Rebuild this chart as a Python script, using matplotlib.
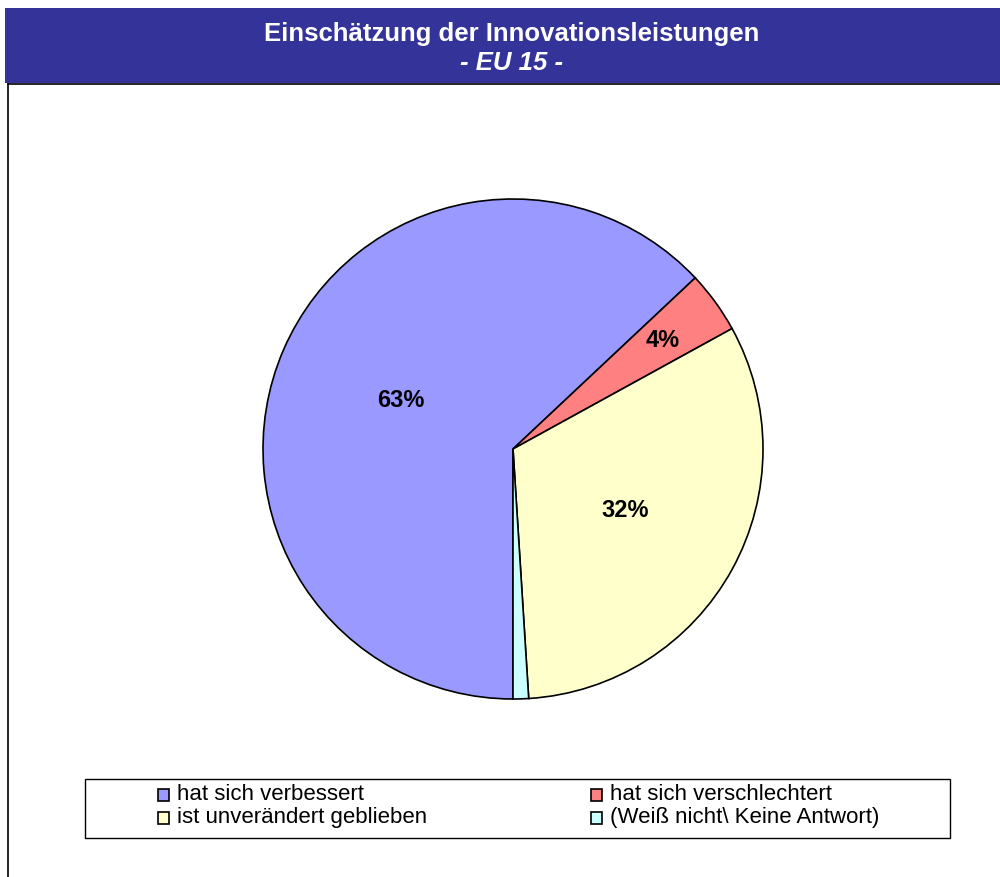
import matplotlib
matplotlib.use("Agg")
import matplotlib.pyplot as plt
from matplotlib.patches import Rectangle
import numpy as np

plt.rcParams['font.family'] = ['Liberation Sans', 'DejaVu Sans']

categories = ["hat sich verbessert", "hat sich verschlechtert",
              "ist unverändert geblieben", "(Weiß nicht\\ Keine Antwort)"]
values = [63, 4, 32, 1]
labels_shown = ["63%", "4%", "32%", ""]
colors = ["#9999FF", "#FF8080", "#FFFFCC", "#CCFFFF"]
label_dist = [0.49, 0.74, 0.51, 0.5]

W, H = 1000, 877
fig = plt.figure(figsize=(W/100, H/100), dpi=100)
fig.patch.set_facecolor("white")

# banner
fig.patches.append(Rectangle((5/W, 1-83/H), 995/W, 75/H, transform=fig.transFigure,
                             facecolor="#333399", edgecolor="none", zorder=0))
# chart border
fig.add_artist(plt.Line2D([8/W, 1], [1-84/H, 1-84/H], transform=fig.transFigure,
                          color="black", linewidth=1.2))
fig.add_artist(plt.Line2D([8/W, 8/W], [0, 1-84/H], transform=fig.transFigure,
                          color="black", linewidth=1.2))

fig.text(512/W, 1-34/H, "Einschätzung der Innovationsleistungen", color="white",
         fontsize=18.5, fontweight="bold", ha="center", va="center")
fig.text(512/W, 1-63/H, "- EU 15 -", color="white", fontsize=18.5,
         fontweight="bold", fontstyle="italic", ha="center", va="center")

# pie axes: center (513,449), radius 250
r = 250
ax = fig.add_axes([(513-r)/W, 1-(449+r)/H, 2*r/W, 2*r/H])
wedges, _ = ax.pie(values, colors=colors, startangle=270, counterclock=False,
                   wedgeprops=dict(edgecolor="black", linewidth=1.2))
ax.set_aspect("equal")
ax.set_xlim(-1, 1)
ax.set_ylim(-1, 1)
for w, lab, d in zip(wedges, labels_shown, label_dist):
    if not lab:
        continue
    ang = np.deg2rad((w.theta1 + w.theta2) / 2)
    ax.text(d*np.cos(ang), d*np.sin(ang), lab, ha="center", va="center",
            fontsize=17, fontweight="bold")

# legend
lx0, lx1, ly0, ly1 = 85, 950, 779, 838
fig.patches.append(Rectangle((lx0/W, 1-ly1/H), (lx1-lx0)/W, (ly1-ly0)/H,
                             transform=fig.transFigure, facecolor="white",
                             edgecolor="black", linewidth=1.0))
pos = [(163, 795), (596, 795), (163, 818), (596, 818)]
for (x, y), cat, c in zip(pos, categories, colors):
    fig.patches.append(Rectangle((x/W - 5/W, 1-(y+6)/H), 11/W, 12/H,
                                 transform=fig.transFigure, facecolor=c,
                                 edgecolor="black", linewidth=1.2))
    fig.text((x+14)/W, 1-y/H, cat, fontsize=16, ha="left", va="center")

fig.savefig("out.png", dpi=100)
